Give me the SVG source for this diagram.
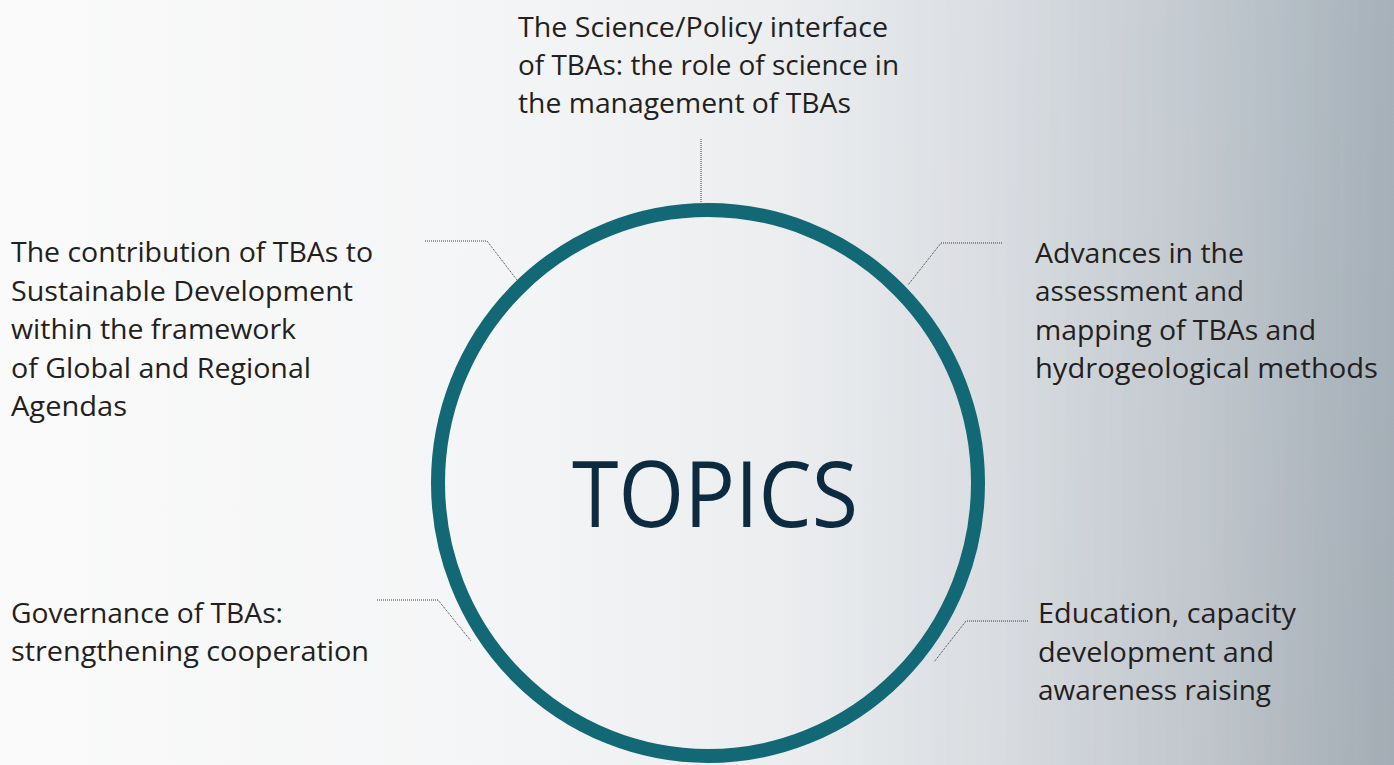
<svg xmlns="http://www.w3.org/2000/svg" width="1394" height="765" viewBox="0 0 1394 765">
  <defs>
    <linearGradient id="bg" x1="0" y1="0" x2="1" y2="0">
      <stop offset="0" stop-color="#fafafa"/>
      <stop offset="0.35" stop-color="#f4f5f6"/>
      <stop offset="0.55" stop-color="#eceef0"/>
      <stop offset="0.72" stop-color="#dcdfe3"/>
      <stop offset="0.86" stop-color="#c6ccd2"/>
      <stop offset="1" stop-color="#a7b1b9"/>
    </linearGradient>
    <linearGradient id="bgv" x1="0" y1="0" x2="0" y2="1">
      <stop offset="0" stop-color="#9fb3c0" stop-opacity="0.15"/>
      <stop offset="1" stop-color="#8e929c" stop-opacity="0.15"/>
    </linearGradient>
    <linearGradient id="fade" x1="0" y1="0" x2="1" y2="0">
      <stop offset="0.6" stop-color="#fff" stop-opacity="0"/>
      <stop offset="1" stop-color="#fff" stop-opacity="1"/>
    </linearGradient>
    <mask id="rightmask">
      <rect width="1394" height="765" fill="url(#fade)"/>
    </mask>
  </defs>
  <style>
    .lbl { font-family: "Open Sans", "Noto Sans", "Liberation Sans", sans-serif; font-size: 27px; fill: #231f20; }
    .title { font-family: "Open Sans", "Noto Sans", "Liberation Sans", sans-serif; font-size: 91px; fill: #0c2a40; }
    .conn { fill: none; stroke: #3a3a3a; stroke-width: 1; stroke-dasharray: 1 1; }
    .ring { fill: none; stroke: #136876; stroke-width: 14; }
  </style>

  <rect id="background" width="1394" height="765" fill="url(#bg)"/>
  <rect width="1394" height="765" fill="url(#bgv)" mask="url(#rightmask)"/>

  <g id="center">
    <ellipse class="ring" cx="708" cy="483" rx="270" ry="273"/>
    <text class="title" x="572" y="527" textLength="286" lengthAdjust="spacingAndGlyphs">TOPICS</text>
  </g>

  <g id="connectors">
    <polyline class="conn" points="701,139 701,203"/>
    <polyline class="conn" points="425,241 487,241 517,280"/>
    <polyline class="conn" points="1002,243 941,243 908,285"/>
    <polyline class="conn" points="377,600 438,600 471,641"/>
    <polyline class="conn" points="1028,621 966,621 934,662"/>
  </g>

  <g id="topic-science-policy">
    <text class="lbl" x="518" y="37" textLength="370" lengthAdjust="spacingAndGlyphs">The Science/Policy interface</text>
    <text class="lbl" x="518" y="75" textLength="381" lengthAdjust="spacingAndGlyphs">of TBAs: the role of science in</text>
    <text class="lbl" x="518" y="113" textLength="333" lengthAdjust="spacingAndGlyphs">the management of TBAs</text>
  </g>

  <g id="topic-sustainable-development">
    <text class="lbl" x="11" y="262" textLength="362" lengthAdjust="spacingAndGlyphs">The contribution of TBAs to</text>
    <text class="lbl" x="11" y="301" textLength="342" lengthAdjust="spacingAndGlyphs">Sustainable Development</text>
    <text class="lbl" x="11" y="339" textLength="285" lengthAdjust="spacingAndGlyphs">within the framework</text>
    <text class="lbl" x="11" y="378" textLength="300" lengthAdjust="spacingAndGlyphs">of Global and Regional</text>
    <text class="lbl" x="11" y="416" textLength="116" lengthAdjust="spacingAndGlyphs">Agendas</text>
  </g>

  <g id="topic-assessment">
    <text class="lbl" x="1035" y="263" textLength="209" lengthAdjust="spacingAndGlyphs">Advances in the</text>
    <text class="lbl" x="1035" y="301" textLength="209" lengthAdjust="spacingAndGlyphs">assessment and</text>
    <text class="lbl" x="1035" y="340" textLength="281" lengthAdjust="spacingAndGlyphs">mapping of TBAs and</text>
    <text class="lbl" x="1035" y="378" textLength="343" lengthAdjust="spacingAndGlyphs">hydrogeological methods</text>
  </g>

  <g id="topic-governance">
    <text class="lbl" x="11" y="623" textLength="272" lengthAdjust="spacingAndGlyphs">Governance of TBAs:</text>
    <text class="lbl" x="11" y="661" textLength="358" lengthAdjust="spacingAndGlyphs">strengthening cooperation</text>
  </g>

  <g id="topic-education">
    <text class="lbl" x="1038" y="623" textLength="258" lengthAdjust="spacingAndGlyphs">Education, capacity</text>
    <text class="lbl" x="1038" y="662" textLength="236" lengthAdjust="spacingAndGlyphs">development and</text>
    <text class="lbl" x="1038" y="700" textLength="233" lengthAdjust="spacingAndGlyphs">awareness raising</text>
  </g>
</svg>
